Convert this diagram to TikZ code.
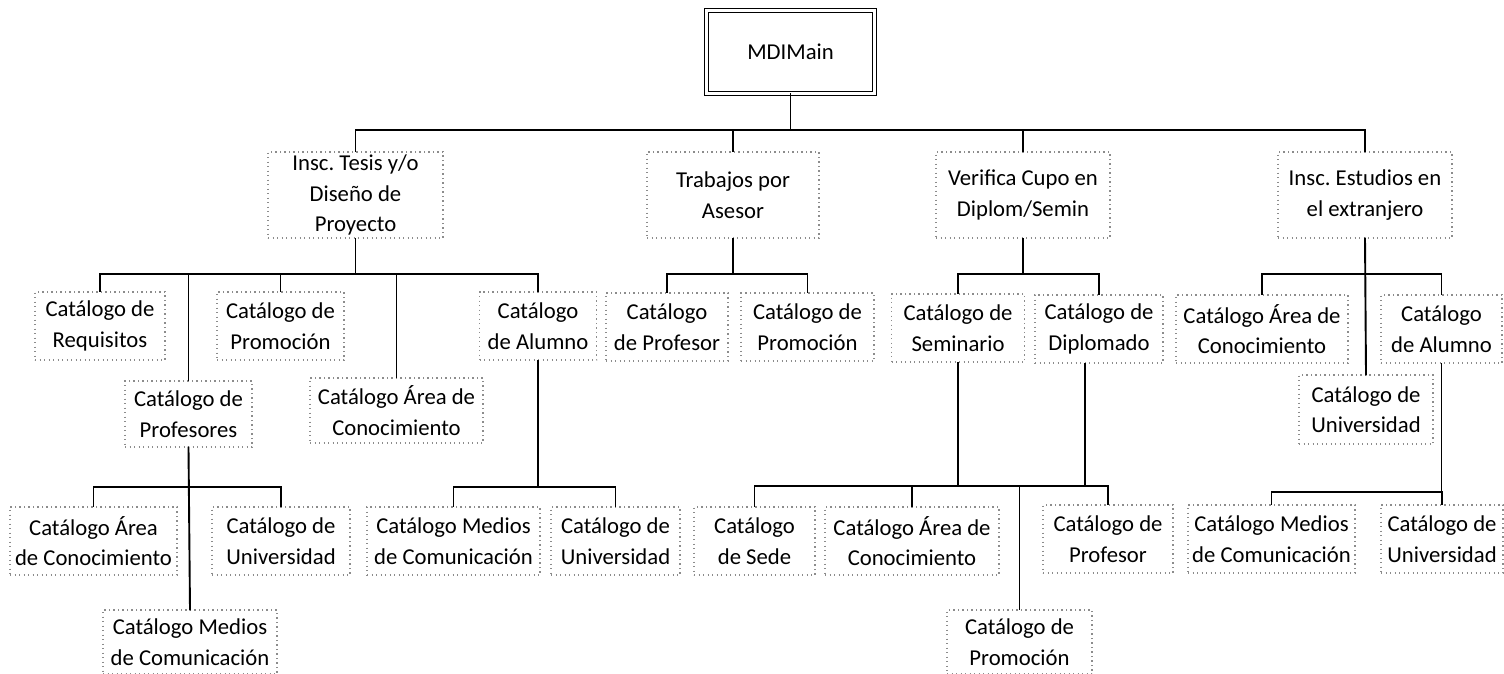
\documentclass[tikz,border=0pt]{standalone}
\usepackage{fontspec}
\setmainfont{Carlito}
\frenchspacing
\begin{document}
\begin{tikzpicture}[x=1pt,y=-1pt,
  cat/.style={draw=black!45, dash pattern=on 1.3pt off 3.2pt, line width=1.1pt,
    inner sep=0pt, align=center, font=\fontsize{22.7}{30.5}\selectfont, text=black},
  mainbox/.style={draw, double, double distance=3pt, line width=1.3pt, inner sep=0pt,
    align=center, font=\fontsize{22.7}{30.5}\selectfont, minimum width=168pt, minimum height=83pt},
  conn/.style={draw=black, line width=1.9pt, line cap=rect}]
\useasboundingbox (0,0) rectangle (1504,673);
\fill[white] (0,0) rectangle (1504,673);

% level 0
\node[mainbox] (main) at (790.5,52) {MDIMain};

% level 1
\node[cat, minimum width=175pt, minimum height=86pt] (tesis) at (355.5,195) {Insc. Tesis y/o\\Diseño de\\Proyecto};
\node[cat, minimum width=172pt, minimum height=86pt] (trab) at (733,195) {Trabajos por\\Asesor};
\node[cat, minimum width=174pt, minimum height=86pt] (verif) at (1023,195) {Verifica Cupo en\\Diplom/Semin};
\node[cat, minimum width=174pt, minimum height=86pt] (estud) at (1365,195) {Insc. Estudios en\\el extranjero};

% level 2 top row
\node[cat, minimum width=130pt, minimum height=68pt] (req) at (100,326) {Catálogo de\\Requisitos};
\node[cat, minimum width=127pt, minimum height=68pt] (promA) at (280.5,326) {Catálogo de\\Promoción};
\node[cat, minimum width=117pt, minimum height=68pt] (alumA) at (538,326) {Catálogo\\de Alumno};
\node[cat, minimum width=122pt, minimum height=68pt] (profB) at (667,327) {Catálogo\\de Profesor};
\node[cat, minimum width=133pt, minimum height=68pt] (promB) at (807.5,327) {Catálogo de\\Promoción};
\node[cat, minimum width=133pt, minimum height=68pt] (semi) at (958,328) {Catálogo de\\Seminario};
\node[cat, minimum width=128pt, minimum height=68pt] (dipl) at (1099,329) {Catálogo de\\Diplomado};
\node[cat, minimum width=172pt, minimum height=68pt] (areaE) at (1262,329) {Catálogo Área de\\Conocimiento};
\node[cat, minimum width=121pt, minimum height=68pt] (alumE) at (1441.5,329) {Catálogo\\de Alumno};

% level 2 lower row
\node[cat, minimum width=127pt, minimum height=66pt] (profs) at (188.5,414) {Catálogo de\\Profesores};
\node[cat, minimum width=173pt, minimum height=65pt] (areaA) at (396.5,410.5) {Catálogo Área de\\Conocimiento};
\node[cat, minimum width=134pt, minimum height=69pt] (univE) at (1366,409.5) {Catálogo de\\Universidad};

% level 3 top row
\node[cat, minimum width=167pt, minimum height=68pt] (areaP) at (93.5,541) {Catálogo Área\\de Conocimiento};
\node[cat, minimum width=138pt, minimum height=68pt] (univP) at (281,541) {Catálogo de\\Universidad};
\node[cat, minimum width=173pt, minimum height=68pt] (medA) at (453.5,541) {Catálogo Medios\\de Comunicación};
\node[cat, minimum width=129pt, minimum height=68pt] (univA) at (615.5,541) {Catálogo de\\Universidad};
\node[cat, minimum width=121pt, minimum height=68pt] (sede) at (754.5,541) {Catálogo\\de Sede};
\node[cat, minimum width=174pt, minimum height=68pt] (areaS) at (912,541) {Catálogo Área de\\Conocimiento};
\node[cat, minimum width=130pt, minimum height=68pt] (profS) at (1108,539) {Catálogo de\\Profesor};
\node[cat, minimum width=167pt, minimum height=68pt] (medE) at (1271.5,539) {Catálogo Medios\\de Comunicación};
\node[cat, minimum width=122pt, minimum height=68pt] (univE2) at (1442,539) {Catálogo de\\Universidad};

% level 3 lower row
\node[cat, minimum width=174pt, minimum height=64pt] (medP) at (190,642) {Catálogo Medios\\de Comunicación};
\node[cat, minimum width=145pt, minimum height=64pt] (promS) at (1019.5,642) {Catálogo de\\Promoción};

% bus levels
\coordinate (b0) at (790.5,130);
\coordinate (b1) at (0,274);
\coordinate (b3) at (0,487);
\coordinate (b4) at (0,486);
\coordinate (b5) at (0,492);

% connectors level 0 -> 1
\draw[conn] (main.south) -- (b0);
\draw[conn] (tesis.north) -- (tesis.north |- b0) -- (estud.north |- b0) -- (estud.north);
\draw[conn] (trab.north) -- (trab.north |- b0);
\draw[conn] (verif.north) -- (verif.north |- b0);

% Tesis group
\draw[conn] (tesis.south) -- (tesis.south |- b1);
\draw[conn] (req.north) -- (req.north |- b1) -- (alumA.north |- b1) -- (alumA.north);
\draw[conn] (promA.north) -- (promA.north |- b1);
\draw[conn] (profs.north) -- (profs.north |- b1);
\draw[conn] (areaA.north) -- (areaA.north |- b1);

% Trabajos group
\draw[conn] (trab.south) -- (trab.south |- b1);
\draw[conn] (profB.north) -- (profB.north |- b1) -- (promB.north |- b1) -- (promB.north);

% Verifica group
\draw[conn] (verif.south) -- (verif.south |- b1);
\draw[conn] (semi.north) -- (semi.north |- b1) -- (dipl.north |- b1) -- (dipl.north);

% Estudios group
\draw[conn] (estud.south) -- (univE.north);
\draw[conn] (areaE.north) -- (areaE.north |- b1) -- (alumE.north |- b1) -- (alumE.north);

% Profesores group
\draw[conn] (profs.south) -- (medP.north);
\draw[conn] (areaP.north) -- (areaP.north |- b3) -- (univP.north |- b3) -- (univP.north);

% Alumno (Tesis) group
\draw[conn] (alumA.south) -- (alumA.south |- b3);
\draw[conn] (medA.north) -- (medA.north |- b3) -- (univA.north |- b3) -- (univA.north);

% Seminario / Diplomado group
\draw[conn] (semi.south) -- (semi.south |- b4);
\draw[conn] ([xshift=-14pt]dipl.south) -- ([xshift=-14pt]dipl.south |- b4);
\draw[conn] (sede.north) -- (sede.north |- b4) -- (profS.north |- b4) -- (profS.north);
\draw[conn] (areaS.north) -- (areaS.north |- b4);
\draw[conn] (promS.north) -- (promS.north |- b4);

% Alumno (Estudios) group
\draw[conn] (alumE.south) -- (alumE.south |- b5);
\draw[conn] (medE.north) -- (medE.north |- b5) -- (univE2.north |- b5) -- (univE2.north);
\end{tikzpicture}
\end{document}
